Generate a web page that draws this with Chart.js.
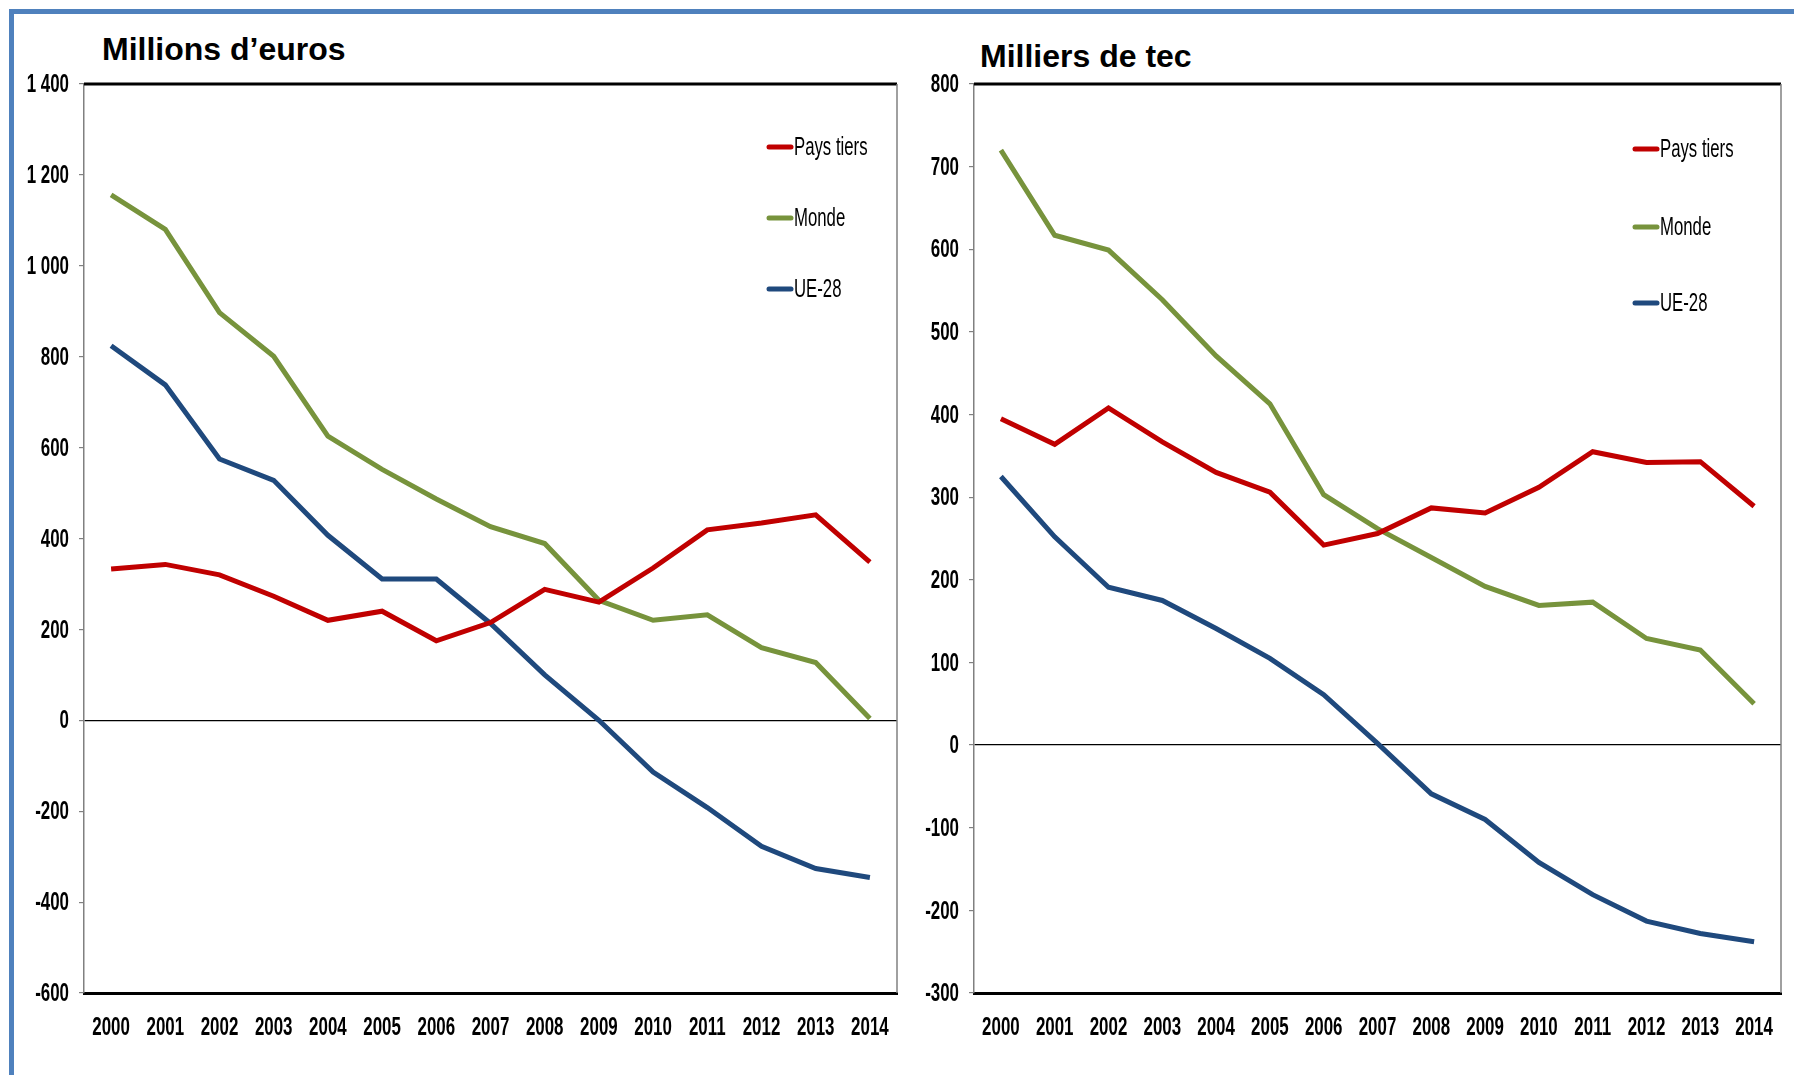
<!DOCTYPE html>
<html>
<head>
<meta charset="utf-8">
<script src="https://cdn.jsdelivr.net/npm/chart.js@4.4.1/dist/chart.umd.min.js"></script>
<style>
  html, body { margin: 0; padding: 0; background: #fff; }
  body { width: 1794px; height: 1075px; position: relative; overflow: hidden; }
  #frame { position: absolute; left: 9px; top: 9px; width: 1800px; height: 1100px;
           border-top: 5px solid #4F81BD; border-left: 5px solid #4F81BD; }
  .titre { position: absolute; font-family: "Liberation Sans", Arial, sans-serif;
           font-weight: bold; font-size: 32px; line-height: 32px; color: #000; }
  canvas { position: absolute; top: 0; }
</style>
</head>
<body>
<div id="frame"></div>
<div class="titre" style="left:102px; top:33px;">Millions d’euros</div>
<div class="titre" style="left:980px; top:40px;">Milliers de tec</div>
<canvas id="chart_euros" style="left:0px;" width="900" height="1075"></canvas>
<canvas id="chart_tec" style="left:900px;" width="894" height="1075"></canvas>
<script>
var annees = ["2000", "2001", "2002", "2003", "2004", "2005", "2006", "2007", "2008", "2009", "2010", "2011", "2012", "2013", "2014"];
var noms_series = ["Pays tiers", "Monde", "UE-28"];
var couleurs = ["#C00000", "#77933C", "#1F497D"];

// millions d'euros
var euros_pays_tiers = [333, 343, 320, 273, 220, 240, 175, 215, 288, 260, 335, 419, 434, 452, 348];
var euros_monde = [1156, 1080, 897, 801, 625, 552, 487, 426, 389, 264, 220, 232, 160, 127, 4];
var euros_ue28 = [824, 738, 575, 528, 407, 311, 311, 213, 100, 0, -114, -192, -277, -326, -346];

// milliers de tec
var tec_pays_tiers = [395, 364, 408, 367, 330, 306, 242, 256, 287, 281, 312, 355, 342, 343, 289];
var tec_monde = [720, 617, 599, 539, 471, 413, 303, 262, 227, 192, 169, 173, 129, 115, 50];
var tec_ue28 = [325, 252, 191, 175, 141, 105, 61, 2, -59, -90, -142, -181, -213, -228, -238];

var police = "'Liberation Sans', Arial, sans-serif";

function formatMilliers(v) {
    var s = String(Math.abs(v)).replace(/\B(?=(\d{3})+(?!\d))/g, " ");
    return (v < 0 ? "-" : "") + s;
}

// texte etroit (police Arial Narrow absente) : on comprime horizontalement
function texteEtroit(ctx, texte, x, y, align, echelle) {
    ctx.save();
    ctx.translate(x, y);
    ctx.scale(echelle, 1);
    ctx.textAlign = align;
    ctx.textBaseline = 'middle';
    ctx.fillText(texte, 0, 0);
    ctx.restore();
}

// etiquettes des axes, placees avec les echelles de Chart.js
var etiquettesPlugin = {
    id: 'etiquettes',
    afterDraw: function (chart) {
        var ctx = chart.ctx, xs = chart.scales.x, ys = chart.scales.y, a = chart.chartArea;
        ctx.save();
        ctx.fillStyle = '#000';
        ctx.font = "bold 26px " + police;
        xs.ticks.forEach(function (t, i) {
            texteEtroit(ctx, chart.data.labels[i], xs.getPixelForTick(i), a.bottom + 35, 'center', 0.65);
        });
        ys.ticks.forEach(function (t) {
            texteEtroit(ctx, formatMilliers(t.value), a.left - 15, ys.getPixelForValue(t.value) + 1, 'right', 0.65);
        });
        ctx.restore();
    }
};

// legende dessinee dans la zone du graphique, a droite
var legendePlugin = {
    id: 'legende',
    afterDraw: function (chart, args, opts) {
        var ctx = chart.ctx;
        ctx.save();
        chart.data.datasets.forEach(function (ds, i) {
            var y = opts.y[i];
            ctx.strokeStyle = ds.borderColor;
            ctx.lineWidth = 5;
            ctx.lineCap = 'round';
            ctx.beginPath();
            ctx.moveTo(opts.x + 2, y);
            ctx.lineTo(opts.x + 24, y);
            ctx.stroke();
            ctx.fillStyle = '#000';
            ctx.font = "25px " + police;
            texteEtroit(ctx, ds.label, opts.x + 27, y + 1, 'left', 0.67);
        });
        ctx.restore();
    }
};

// bord haut noir et bord droit gris du cadre
var cadrePlugin = {
    id: 'cadre',
    afterDraw: function (chart) {
        var a = chart.chartArea, ctx = chart.ctx;
        ctx.save();
        ctx.strokeStyle = '#000';
        ctx.lineWidth = 3;
        ctx.beginPath();
        ctx.moveTo(a.left, a.top);
        ctx.lineTo(a.right, a.top);
        ctx.stroke();
        ctx.strokeStyle = '#808080';
        ctx.lineWidth = 1.5;
        ctx.beginPath();
        ctx.moveTo(a.right, a.top);
        ctx.lineTo(a.right, a.bottom);
        ctx.stroke();
        ctx.restore();
    }
};

function creerGraphique(id, series, yMin, yMax, pas, largeurAxe, paddingDroit, legendeX, legendeY) {
    var datasets = series.map(function (valeurs, i) {
        return {
            label: noms_series[i],
            data: valeurs,
            borderColor: couleurs[i],
            backgroundColor: couleurs[i],
            borderWidth: 5,
            pointRadius: 0,
            tension: 0,
            fill: false
        };
    });
    return new Chart(document.getElementById(id), {
        type: 'line',
        data: { labels: annees, datasets: datasets },
        options: {
            responsive: false,
            animation: false,
            layout: { padding: { top: 84, right: paddingDroit, bottom: 0, left: 0 } },
            plugins: {
                legend: { display: false },
                tooltip: { enabled: false },
                legende: { x: legendeX, y: legendeY }
            },
            scales: {
                x: {
                    type: 'category',
                    offset: true,
                    grid: { drawOnChartArea: false, drawTicks: false },
                    border: { color: '#000', width: 3 },
                    ticks: { display: false, autoSkip: false },
                    afterFit: function (scale) { scale.height = 82; }
                },
                y: {
                    min: yMin,
                    max: yMax,
                    grid: {
                        color: function (c) { return c.tick && c.tick.value === 0 ? '#000' : 'rgba(0,0,0,0)'; },
                        lineWidth: 1.2,
                        tickColor: '#808080',
                        tickLength: 5
                    },
                    border: { color: '#808080', width: 1.5 },
                    ticks: { display: false, stepSize: pas },
                    afterFit: function (scale) { scale.width = largeurAxe; }
                }
            }
        },
        plugins: [etiquettesPlugin, legendePlugin, cadrePlugin]
    });
}

creerGraphique('chart_euros', [euros_pays_tiers, euros_monde, euros_ue28],
    -600, 1400, 200, 84, 3, 767, [147, 218, 289]);
creerGraphique('chart_tec', [tec_pays_tiers, tec_monde, tec_ue28],
    -300, 800, 100, 74, 13, 733, [149, 227, 303]);
</script>
</body>
</html>
